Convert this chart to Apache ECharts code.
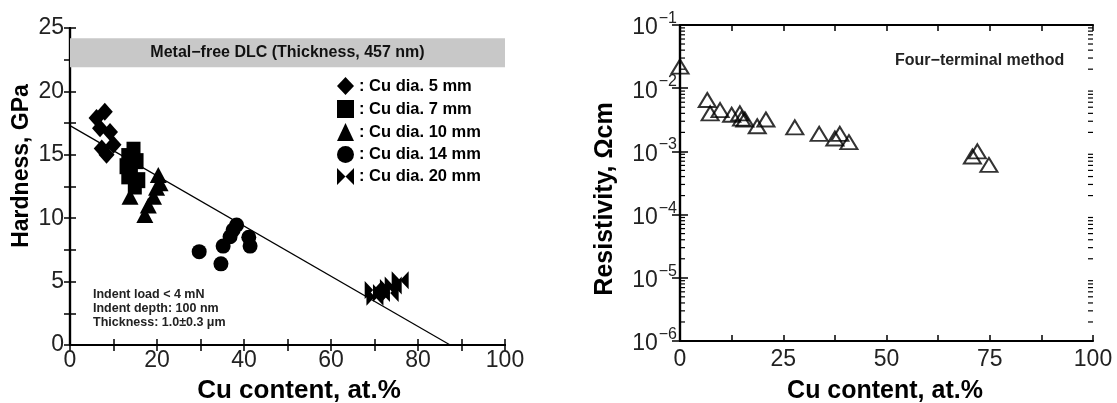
<!DOCTYPE html>
<html><head><meta charset="utf-8">
<script src="https://cdn.jsdelivr.net/npm/echarts@6/dist/echarts.min.js"></script>
<style>html,body{margin:0;padding:0;background:#fff}#c{width:1117px;height:403px}</style>
</head><body><div id="c"></div>
<script>
// ---------- data ----------
const seriesNames = ['Cu dia. 5 mm','Cu dia. 7 mm','Cu dia. 10 mm','Cu dia. 14 mm','Cu dia. 20 mm'];
const cu5x  = [6.1, 8.0, 6.9, 9.2, 10.0, 7.3, 8.4];
const cu5y  = [17.9, 18.4, 17.1, 16.8, 15.8, 15.5, 15.0];
const cu7x  = [14.6, 13.4, 13.0, 15.3, 13.4, 15.7, 14.9, 14.0];
const cu7y  = [15.4, 14.9, 14.1, 14.5, 13.3, 13.0, 12.5, 13.8];
const cu10x = [13.8, 17.2, 18.0, 19.2, 19.9, 20.7, 20.3];
const cu10y = [11.7, 10.25, 11.0, 11.7, 12.4, 12.75, 13.4];
const cu14x = [29.7, 34.7, 35.2, 36.8, 37.5, 38.3, 41.1, 41.4];
const cu14y = [7.36, 6.4, 7.8, 8.54, 9.07, 9.46, 8.5, 7.8];
const cu20x = [69.7, 71.6, 73.2, 74.3, 75.9, 70.1, 73.6];
const cu20y = [4.34, 4.1, 4.5, 4.7, 5.1, 3.8, 4.1];
const fitX  = [0, 87.4];
const fitY  = [17.3, 0];
const bandY = [21.9, 24.2];
const bandText = 'Metal\u2212free DLC (Thickness, 457 nm)';
const noteLines = ['Indent load < 4 mN', 'Indent depth: 100 nm', 'Thickness: 1.0\u00b10.3 \u03bcm'];

const resX = [0, 6.6, 7.3, 9.7, 12.5, 14.5, 14.9, 15.7, 18.7, 20.8, 27.8, 33.7, 37.5, 38.7, 40.9, 70.8, 72.0, 74.8];
const resY = [0.022, 0.0065, 0.0040, 0.0045, 0.0038, 0.0040, 0.0033, 0.0032, 0.0025, 0.0032, 0.0024, 0.0019, 0.0016, 0.0019, 0.0014, 0.00083, 0.0010, 0.00061];
const resNote = 'Four\u2212terminal method';

const leftXTitle = 'Cu content, at.%';
const leftYTitle = 'Hardness, GPa';
const rightXTitle = 'Cu content, at.%';
const rightYTitle = 'Resistivity, \u03a9cm';

// ---------- chart ----------
const FONT = "'Liberation Sans', Arial, sans-serif";
const zip = (a, b) => a.map((v, i) => [v, b[i]]);
const minorLog = [];
for (let e = -6; e < -1; e++) for (let m = 2; m <= 9; m++) minorLog.push([0, m * Math.pow(10, e)]);

const bowtie = 'path://M0,0 L5,5 L0,10 Z M10,0 L5,5 L10,10 Z';
const symbols = ['diamond', 'rect', 'triangle', 'circle', bowtie];
const sizes = [[16,18], [14,16], [17,16], 15, [17,18]];
const groups = [zip(cu5x,cu5y), zip(cu7x,cu7y), zip(cu10x,cu10y), zip(cu14x,cu14y), zip(cu20x,cu20y)];

const axLine = {show: true, lineStyle: {color: '#000', width: 2.2}};
const tickIn = (len) => ({show: true, inside: true, length: len, lineStyle: {color: '#000', width: 1.5}});
const lab = {color: '#222', fontFamily: FONT, fontSize: 23};
const titleText = (text, x, y, size, rot) => ({
  type: 'text', x: x, y: y, rotation: rot ? Math.PI / 2 : 0,
  style: {text: text, fill: '#000', font: 'bold ' + size + 'px ' + FONT, align: 'center', verticalAlign: 'middle'}
});

const chart = echarts.init(document.getElementById('c'), null, {renderer: 'canvas'});
chart.setOption({
  animation: false,
  backgroundColor: '#fff',
  grid: [
    {left: 70, top: 28, width: 435, height: 317},
    {left: 680, top: 25, width: 413, height: 316}
  ],
  xAxis: [
    {gridIndex: 0, type: 'value', min: 0, max: 100, interval: 10, position: 'bottom',
     axisLine: axLine, axisTick: tickIn(6), splitLine: {show: false},
     axisLabel: Object.assign({}, lab, {margin: 4, formatter: v => (v % 20 === 0 ? String(v) : '')})},
    {gridIndex: 0, type: 'value', min: 0, max: 100, interval: 10, position: 'top',
     axisLine: axLine, axisTick: tickIn(6), axisLabel: {show: false}, splitLine: {show: false}},
    {gridIndex: 1, type: 'value', min: 0, max: 100, interval: 12.5, position: 'bottom',
     axisLine: axLine, axisTick: tickIn(6), splitLine: {show: false},
     axisLabel: Object.assign({}, lab, {margin: 7, formatter: v => (v % 25 === 0 ? String(v) : '')})},
    {gridIndex: 1, type: 'value', min: 0, max: 100, interval: 12.5, position: 'top',
     axisLine: axLine, axisTick: tickIn(6), axisLabel: {show: false}, splitLine: {show: false}}
  ],
  yAxis: [
    {gridIndex: 0, type: 'value', min: 0, max: 25, interval: 2.5, position: 'left',
     axisLine: axLine, axisTick: tickIn(6), splitLine: {show: false},
     axisLabel: Object.assign({}, lab, {margin: 6, formatter: v => (v % 5 === 0 ? String(v) : '')})},
    {gridIndex: 0, type: 'value', min: 0, max: 25, interval: 2.5, position: 'right',
     axisLine: axLine, axisTick: tickIn(6), axisLabel: {show: false}, splitLine: {show: false}},
    {gridIndex: 1, type: 'log', logBase: 10, min: 1e-6, max: 1e-1, position: 'left',
     axisLine: axLine, axisTick: tickIn(8), splitLine: {show: false},
     axisLabel: {margin: 3, fontFamily: FONT,
       formatter: v => '{b|10}{s|\u2212' + Math.round(-Math.log10(v)) + '}',
       rich: {b: {fontSize: 23, color: '#222', fontFamily: FONT, verticalAlign: 'bottom'},
              s: {fontSize: 16, color: '#222', fontFamily: FONT, verticalAlign: 'top', padding: [0,0,13,1]}}}},
    {gridIndex: 1, type: 'log', logBase: 10, min: 1e-6, max: 1e-1, position: 'right',
     axisLine: axLine, axisTick: tickIn(8), axisLabel: {show: false}, splitLine: {show: false}}
  ],
  legend: {
    left: 332, top: 72, orient: 'vertical', itemGap: 5, itemWidth: 17, itemHeight: 18,
    data: seriesNames, selectedMode: false,
    formatter: n => ': ' + n,
    textStyle: {color: '#000', fontFamily: FONT, fontSize: 16.5, fontWeight: 'bold'}
  },
  graphic: [
    {type: 'text', left: 93, top: 288, style: {text: noteLines.join('\n'), fill: '#222',
      font: 'bold 12.5px ' + FONT, lineHeight: 14}},
    {type: 'text', left: 895, top: 53, style: {text: resNote, fill: '#222',
      font: 'bold 16px ' + FONT}},
    titleText(leftXTitle, 299, 391, 26, false),
    titleText(leftYTitle, 22, 166, 23, true),
    titleText(rightXTitle, 885, 391, 25, false),
    titleText(rightYTitle, 605, 199, 25, true)
  ],
  series: [
    ...groups.map((g, i) => ({
      name: seriesNames[i], type: 'scatter', xAxisIndex: 0, yAxisIndex: 0,
      data: g, symbol: symbols[i], symbolSize: sizes[i],
      itemStyle: {color: '#000', opacity: 1}, z: 5
    })),
    {type: 'line', xAxisIndex: 0, yAxisIndex: 0, data: zip(fitX, fitY), showSymbol: false,
     lineStyle: {color: '#000', width: 1.2}, z: 4, silent: true,
     markArea: {silent: true, itemStyle: {color: '#c8c8c8'},
       label: {show: true, position: 'inside', color: '#111', fontFamily: FONT, fontWeight: 'bold', fontSize: 16},
       data: [[{name: bandText, xAxis: 0, yAxis: bandY[0]}, {xAxis: 100, yAxis: bandY[1]}]]}},
    {type: 'scatter', xAxisIndex: 2, yAxisIndex: 2, data: zip(resX, resY),
     symbol: 'triangle', symbolSize: [17, 14],
     itemStyle: {color: 'rgba(255,255,255,0)', borderColor: '#000', borderWidth: 2}, z: 5},
    {type: 'custom', xAxisIndex: 2, yAxisIndex: 2, data: minorLog, silent: true, clip: false,
     renderItem: (params, api) => {
       const p0 = api.coord([0, api.value(1)]);
       const p1 = api.coord([100, api.value(1)]);
       return {type: 'group', children: [
         {type: 'line', shape: {x1: p0[0], y1: p0[1], x2: p0[0] + 5, y2: p0[1]}, style: {stroke: '#000', lineWidth: 1.2}},
         {type: 'line', shape: {x1: p1[0] - 5, y1: p1[1], x2: p1[0], y2: p1[1]}, style: {stroke: '#000', lineWidth: 1.2}}
       ]};
     }}
  ]
});
</script></body></html>
